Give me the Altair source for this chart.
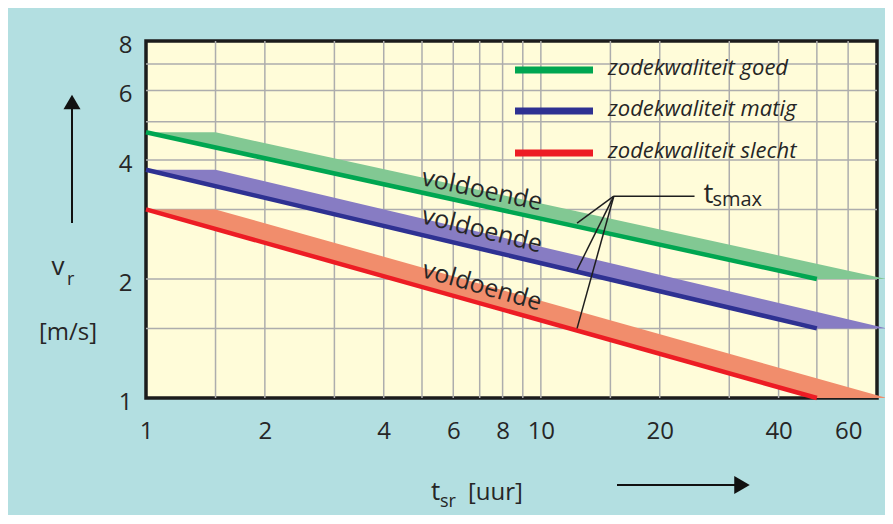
import altair as alt
import pandas as pd

# ---------------- data ----------------
qualities = ["goed", "matig", "slecht"]
legend_labels = ["zodekwaliteit goed", "zodekwaliteit matig", "zodekwaliteit slecht"]
line_colors = ["#00a651", "#2e3192", "#ed1c24"]
band_colors = ["#82c893", "#877cc3", "#f18d6c"]

# t_smax lines (straight on log-log): value at t=1 and at t=50
line_t = [1, 50]
v_at_start = [4.7, 3.78, 3.0]
v_at_end = [2.0, 1.5, 1.0]

# "voldoende" band corners (t values); v taken from start / end values
band_t = [1, 1.5, 75, 50]

x_ticks = [1, 2, 4, 6, 8, 10, 20, 40, 60]
y_ticks = [1, 2, 4, 6, 8]
x_grid = [1.5, 2, 3, 4, 5, 6, 7, 8, 9, 10, 15, 20, 30, 40, 50, 60]
y_grid = [1.5, 2, 3, 4, 5, 6, 7]

label_text = "voldoende"
label_t = [7.1, 7.1, 7.1]
label_v = [3.36, 2.66, 1.92]
label_angle = [12, 14, 16]

hub_t, hub_v = 15.3, 3.24
pointer_t = [24.5, 12.35, 12.35, 12.35]
pointer_v = [3.24, 2.77, 2.11, 1.50]
tsmax_t, tsmax_v = 25.8, 3.11

# ---------------- tables ----------------
lines_df = pd.DataFrame(
    [{"q": q, "t": t, "v": v} for q, a, b in zip(qualities, v_at_start, v_at_end)
     for t, v in zip(line_t, [a, b])]
)
band_df = pd.DataFrame(
    [{"q": q, "i": i, "t": t, "v": (a if i < 2 else b)}
     for q, a, b in zip(qualities, v_at_start, v_at_end)
     for i, t in enumerate(band_t)]
)
labels_df = pd.DataFrame({"t": label_t, "v": label_v, "a": label_angle, "txt": [label_text] * 3})
pointer_df = pd.DataFrame({"t": [hub_t] * 4, "v": [hub_v] * 4, "t2": pointer_t, "v2": pointer_v})
tsmax_df = pd.DataFrame({"t": [tsmax_t], "v": [tsmax_v]})
legend_df = pd.DataFrame({"label": legend_labels, "q": qualities, "row": [0, 1, 2]})

FONT = "Open Sans"
TXT = "#262626"

x_scale = alt.Scale(type="log", domain=[1, 71], nice=False)
y_scale = alt.Scale(type="log", domain=[1, 8], nice=False)
x_axis = alt.Axis(values=x_ticks, format="d", grid=False, ticks=False, domain=False,
                  labelFontSize=24, labelColor=TXT, labelFont=FONT, labelPadding=21,
                  labelFlush=False, labelOverlap=False)
y_axis = alt.Axis(values=y_ticks, format="d", grid=False, ticks=False, domain=False,
                  labelFontSize=24, labelColor=TXT, labelFont=FONT, labelPadding=14,
                  labelOffset=4, labelOverlap=False)


def X(f):
    return alt.X(f, scale=x_scale, axis=x_axis, title=None)


def Y(f):
    return alt.Y(f, scale=y_scale, axis=y_axis, title=None)


grid_x = alt.Chart(pd.DataFrame({"t": x_grid})).mark_rule(color="#adadad", strokeWidth=1.5).encode(x=X("t:Q"))
grid_y = alt.Chart(pd.DataFrame({"v": y_grid})).mark_rule(color="#adadad", strokeWidth=1.5).encode(y=Y("v:Q"))

bands = alt.Chart(band_df).mark_line(interpolate="linear-closed", strokeOpacity=0, clip=False).encode(
    x=X("t:Q"), y=Y("v:Q"),
    fill=alt.Fill("q:N", scale=alt.Scale(domain=qualities, range=band_colors), legend=None),
    order=alt.Order("i:Q"),
)

lines = alt.Chart(lines_df).mark_line(strokeWidth=4.5, strokeCap="butt").encode(
    x=X("t:Q"), y=Y("v:Q"),
    stroke=alt.Stroke("q:N", scale=alt.Scale(domain=qualities, range=line_colors), legend=None),
)

band_labels = alt.Chart(labels_df).mark_text(font=FONT, fontSize=25, color=TXT, align="center",
                                             baseline="middle").encode(
    x=X("t:Q"), y=Y("v:Q"), text="txt:N", angle=alt.Angle("a:Q", scale=None)
)

pointers = alt.Chart(pointer_df).mark_rule(color="#1e1e1e", strokeWidth=1.5).encode(
    x=X("t:Q"), y=Y("v:Q"), x2="t2:Q", y2="v2:Q"
)
tsmax_t_txt = alt.Chart(tsmax_df).mark_text(text="t", font=FONT, fontSize=28, color=TXT,
                                            align="left", baseline="alphabetic").encode(x=X("t:Q"), y=Y("v:Q"))
tsmax_sub = alt.Chart(tsmax_df).mark_text(text="smax", font=FONT, fontSize=20, color=TXT, align="left",
                                          baseline="alphabetic", dx=9, dy=3).encode(x=X("t:Q"), y=Y("v:Q"))

# legend (inside plot, top right)
leg_rows = [29, 70, 112]
leg_lines = [
    alt.Chart(legend_df[legend_df.row == r]).mark_rule(strokeWidth=7, color=c).encode(
        x=alt.value(369), x2=alt.value(447), y=alt.value(yy))
    for r, c, yy in zip([0, 1, 2], line_colors, leg_rows)
]
leg_texts = [
    alt.Chart(legend_df[legend_df.row == r]).mark_text(font=FONT, fontSize=22, fontStyle="italic", color=TXT,
                                                       align="left", baseline="middle").encode(
        x=alt.value(462), y=alt.value(yy - 2), text="label:N")
    for r, yy in zip([0, 1, 2], leg_rows)
]

# axis titles & arrows (outside plot area)
one = pd.DataFrame({"k": [0]})
deco = [
    alt.Chart(one).mark_text(text="v", font=FONT, fontSize=26, color=TXT, align="center",
                             baseline="alphabetic").encode(x=alt.value(-88), y=alt.value(234)),
    alt.Chart(one).mark_text(text="r", font=FONT, fontSize=18, color=TXT, align="left",
                             baseline="alphabetic").encode(x=alt.value(-79), y=alt.value(244)),
    alt.Chart(one).mark_text(text="[m/s]", font=FONT, fontSize=24, color=TXT, align="center",
                             baseline="alphabetic").encode(x=alt.value(-78), y=alt.value(299)),
    alt.Chart(one).mark_rule(color="#111", strokeWidth=2).encode(
        x=alt.value(-74), y=alt.value(182), y2=alt.value(66)),
    alt.Chart(one).mark_point(shape="triangle-up", filled=True, size=290, color="#111", opacity=1).encode(
        x=alt.value(-74), y=alt.value(61)),
    alt.Chart(one).mark_text(text="t", font=FONT, fontSize=26, color=TXT, align="left",
                             baseline="alphabetic").encode(x=alt.value(285), y=alt.value(459)),
    alt.Chart(one).mark_text(text="sr", font=FONT, fontSize=18, color=TXT, align="left",
                             baseline="alphabetic").encode(x=alt.value(294), y=alt.value(466)),
    alt.Chart(one).mark_text(text="[uur]", font=FONT, fontSize=24, color=TXT, align="left",
                             baseline="alphabetic").encode(x=alt.value(322), y=alt.value(459)),
    alt.Chart(one).mark_rule(color="#111", strokeWidth=2).encode(
        x=alt.value(471), x2=alt.value(590), y=alt.value(444)),
    alt.Chart(one).mark_point(shape="triangle-right", filled=True, size=320, color="#111", opacity=1).encode(
        x=alt.value(596), y=alt.value(444)),
]

chart = alt.layer(
    grid_x, grid_y, bands, lines, band_labels, pointers, tsmax_t_txt, tsmax_sub,
    *leg_lines, *leg_texts, *deco
).properties(
    width=731, height=357,
    autosize=alt.AutoSizeParams(type="none"),
    padding={"left": 138, "top": 33, "right": 8, "bottom": 117},
).configure(
    background="#b3dfe1",
).configure_view(
    fill="#fffcd9", stroke="#1c1c1c", strokeWidth=3.5,
)

chart.save("out.html", embed_options={"renderer": "svg", "actions": False})
